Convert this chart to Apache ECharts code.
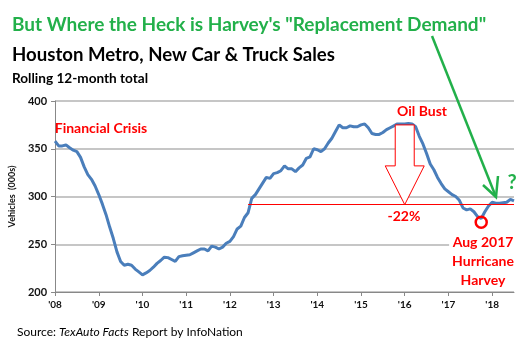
<!DOCTYPE html>
<html><head><meta charset="utf-8">
<script src="https://cdn.jsdelivr.net/npm/echarts@6/dist/echarts.min.js"></script>
<style>html,body{margin:0;padding:0;background:#fff}#c{width:528px;height:344px}</style>
</head><body><div id="c"></div>
<script>
var yearLabels = ["'08","'09","'10","'11","'12","'13","'14","'15","'16","'17","'18"];
var startYear = 2008;
var sales = [
358,353,353,354,351,348.5,347,341,331,323,318,311,
302,292,281,268,256,242,232,228,229,228,224,221,
218,220,222.5,226,230,233,236.5,236,234,232,237,238,
238.5,239,241,243,245,245,243,248,247,245,247,251,
253,258,266,269,278,283,298,302,308,314,320,319,
324,325,327,332,329,329,326,330,333,340,341.5,350,
349,347,350,356,361,368,375,372,372,374,373,373,
375,376,372,366,365,365,367,370,372,374,376,376,
376,376.5,376,373,363,355,345,334,328,320,313.5,308,
305,302,300,296,288,286,287,284,279,277,284,290,
294,293,293,293.5,294,297,295.5
];
var peakValue = 376;
var dropPct = -22;
var baseline = 291.5;
var crossIndex = 53;
var harveyIndex = 117;
var harveyValue = 273;
var arrowIndex = 96;

var months = sales.map(function(v,i){ return (startYear + Math.floor(i/12)) + '-' + (i%12+1); });

var RED = '#ff0000', GREEN = '#22b04a', FONT = 'Lato';
var chart = echarts.init(document.getElementById('c'), null, {renderer:'canvas'});
var opt = {
  animation:false,
  backgroundColor:'#fff',
  textStyle:{fontFamily:FONT},
  title:[
    {text:'But Where the Heck is Harvey\'s "Replacement Demand"', left:7, top:10, textStyle:{fontFamily:FONT,fontSize:19,fontWeight:'bold',color:GREEN}},
    {text:'Houston Metro, New Car & Truck Sales', left:7, top:40, textStyle:{fontFamily:FONT,fontSize:18.6,fontWeight:'bold',color:'#000'}},
    {text:'Rolling 12-month total', left:7, top:67, textStyle:{fontFamily:FONT,fontSize:13.6,fontWeight:'bold',color:'#000'}},
    {text:'{n|Source: }{i|TexAuto Facts}{n| Report by InfoNation}', left:12, top:321, textStyle:{fontWeight:'normal',rich:{n:{fontFamily:FONT,fontSize:12,fontWeight:'normal',color:'#000'},i:{fontFamily:FONT,fontSize:12,fontWeight:'normal',fontStyle:'italic',color:'#000'}}}}
  ],
  grid:{left:47, right:14, top:101, bottom:52, containLabel:false},
  xAxis:{
    type:'category', data:months, boundaryGap:false,
    axisLine:{lineStyle:{color:'#888'}},
    axisTick:{interval:function(i){return i%12===0;}, length:4, lineStyle:{color:'#888'}},
    axisLabel:{interval:function(i){return i%12===0;}, formatter:function(v,i){return yearLabels[Math.floor(i/12)];}, fontFamily:FONT, fontWeight:'bold', fontSize:10, color:'#111', margin:8},
    splitLine:{show:false}
  },
  yAxis:{
    type:'value', min:200, max:400, interval:50,
    name:'Vehicles  (000s)', nameLocation:'middle', nameRotate:90, nameGap:36,
    nameTextStyle:{fontFamily:FONT,fontSize:9,fontWeight:'bold',color:'#111'},
    axisLine:{show:true,lineStyle:{color:'#888'}},
    axisTick:{show:true,length:4,lineStyle:{color:'#888'}},
    axisLabel:{fontFamily:FONT,fontWeight:'bold',fontSize:11,color:'#111',margin:8},
    splitLine:{lineStyle:{color:'#b3b3b3',width:1.5}}
  },
  series:[{
    type:'line', data:sales, showSymbol:false, smooth:false,
    lineStyle:{color:'#4a7ebb', width:3}, z:3,
    markLine:{
      silent:true, symbol:'none', label:{show:false},
      lineStyle:{color:RED, width:1.2, type:'solid'},
      data:[[{coord:[crossIndex, baseline]},{coord:[sales.length-1, baseline]}]]
    }
  }]
};
chart.setOption(opt);

function P(i,v){ return chart.convertToPixel({gridIndex:0},[i,v]); }
var arrTop = P(arrowIndex, peakValue), arrTip = P(arrowIndex, baseline);
var shaftW = 19, headW = 39;
var headY = arrTop[1] + (arrTip[1]-arrTop[1])*0.52;
var ax = arrTip[0];
var hv = P(harveyIndex, harveyValue);
var gStart = [432, 36], gTip = [496, 197];

var lbl = function(txt, x, y, size, color){
  return {type:'text', x:x, y:y, z:20, style:{text:txt, fill:color, font:'bold '+size+'px '+FONT, textAlign:'center', textVerticalAlign:'middle'}};
};

chart.setOption({graphic:[
  {type:'polygon', z:10, shape:{points:[
    [ax-shaftW/2, arrTop[1]+1],[ax+shaftW/2, arrTop[1]+1],[ax+shaftW/2, headY],[ax+headW/2, headY],
    [ax, arrTip[1]],[ax-headW/2, headY],[ax-shaftW/2, headY]]},
    style:{fill:'#fff', stroke:RED, lineWidth:1}},
  lbl('Financial Crisis', 101, 128, 14, RED),
  lbl('Oil Bust', 422, 111, 14, RED),
  lbl(dropPct+'%', 404, 216, 14, RED),
  {type:'circle', z:12, shape:{cx:hv[0], cy:hv[1], r:5.5}, style:{fill:'none', stroke:RED, lineWidth:2.5}},
  {type:'text', z:20, x:483, y:233, style:{text:'Aug 2017\nHurricane\nHarvey', fill:RED, font:'bold 14px '+FONT, textAlign:'center', textVerticalAlign:'top', lineHeight:19, backgroundColor:'#fff', padding:[0,3,0,3]}},
  {type:'line', z:15, shape:{x1:gStart[0], y1:gStart[1], x2:gTip[0], y2:gTip[1]}, style:{stroke:GREEN, lineWidth:2.5}},
  {type:'polyline', z:15, shape:{points:[[483,185],[gTip[0],gTip[1]],[498,176]]}, style:{stroke:GREEN, lineWidth:2.5, fill:'none'}},
  lbl('?', 512, 183, 20, GREEN)
]});
</script></body></html>
